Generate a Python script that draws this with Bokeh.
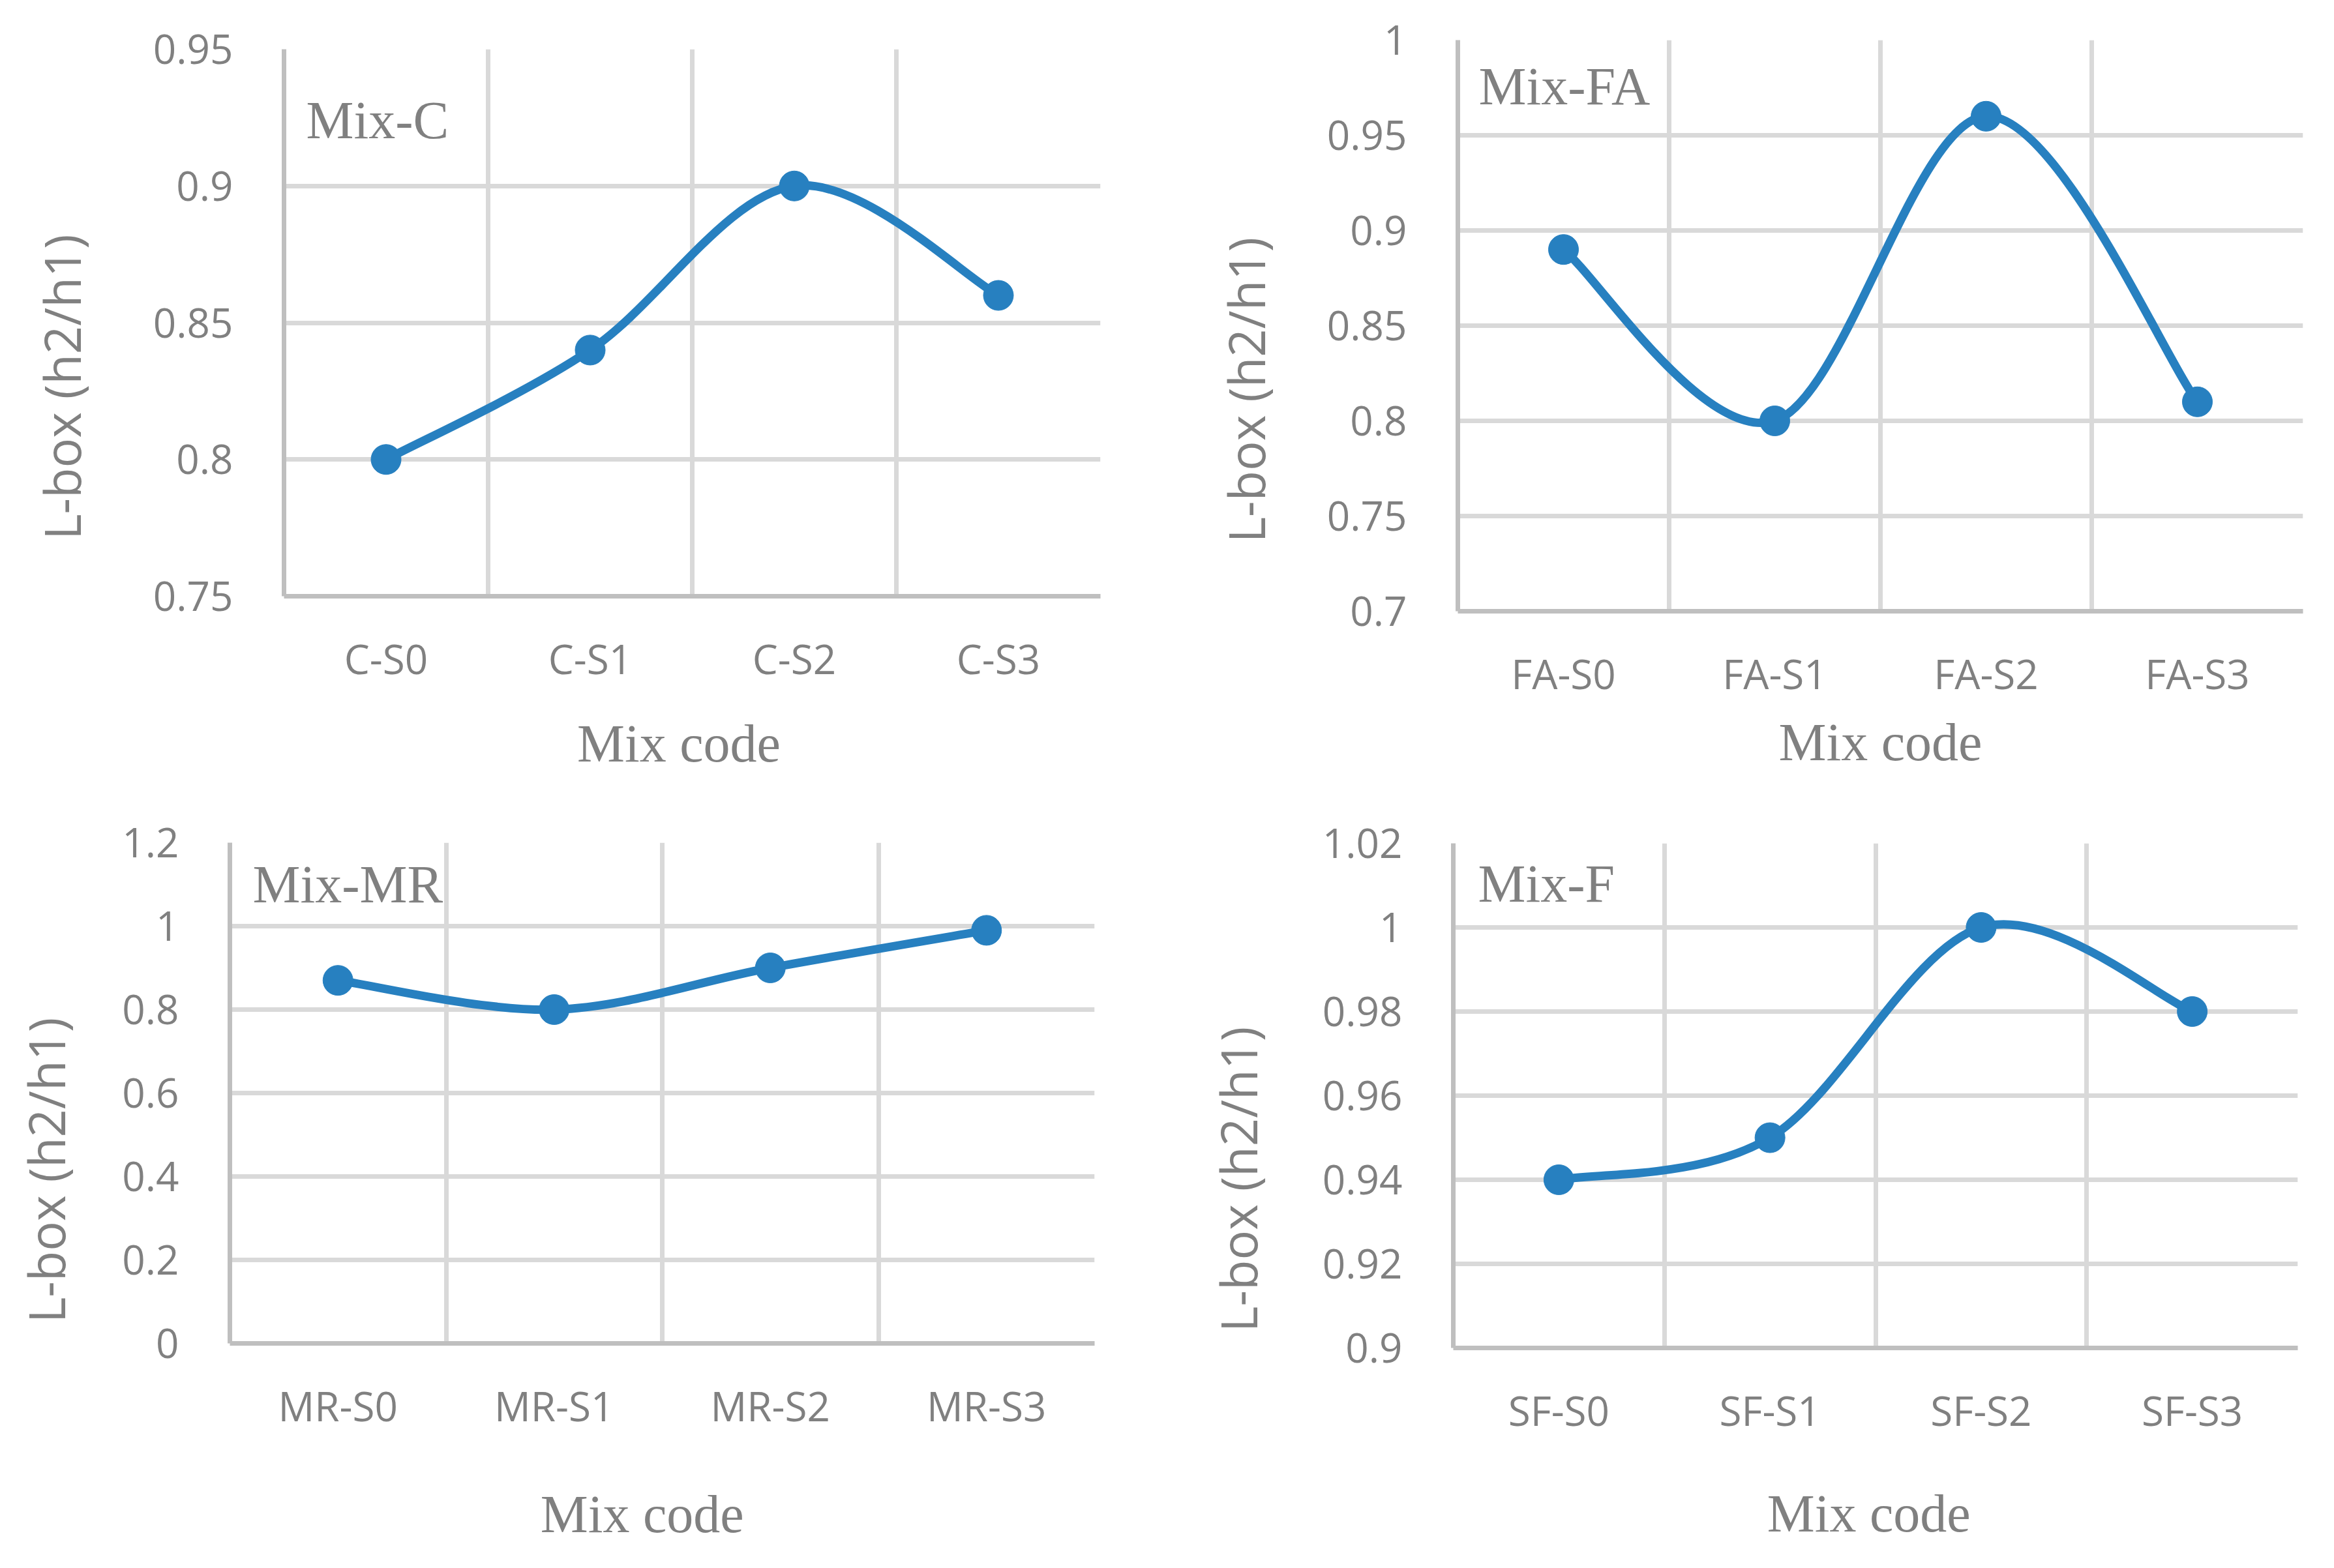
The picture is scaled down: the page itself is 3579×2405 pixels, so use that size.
import numpy as np
from bokeh.plotting import figure
from bokeh.models import Range1d, FixedTicker, NumeralTickFormatter, Label, ColumnDataSource
from bokeh.layouts import column, row
from bokeh.embed import file_html
from bokeh.resources import INLINE

# ---------------- data ----------------
c_codes = ["C-S0", "C-S1", "C-S2", "C-S3"]
c_vals = [0.80, 0.84, 0.90, 0.86]
c_yticks = [0.75, 0.80, 0.85, 0.90, 0.95]

fa_codes = ["FA-S0", "FA-S1", "FA-S2", "FA-S3"]
fa_vals = [0.89, 0.80, 0.96, 0.81]
fa_yticks = [0.70, 0.75, 0.80, 0.85, 0.90, 0.95, 1.00]

mr_codes = ["MR-S0", "MR-S1", "MR-S2", "MR-S3"]
mr_vals = [0.87, 0.80, 0.90, 0.99]
mr_yticks = [0.0, 0.2, 0.4, 0.6, 0.8, 1.0, 1.2]

sf_codes = ["SF-S0", "SF-S1", "SF-S2", "SF-S3"]
sf_vals = [0.94, 0.95, 1.00, 0.98]
sf_yticks = [0.90, 0.92, 0.94, 0.96, 0.98, 1.00, 1.02]

panel_titles = ["Mix-C", "Mix-FA", "Mix-MR", "Mix-F"]
x_title = "Mix code"
y_title = "L-box (h2/h1)"

# ---------------- styling / layout ----------------
BLUE = "#2780C0"
TXT = "#808080"
GRID = "#D9D9D9"
AXIS = "#BFBFBF"
SANS = "Open Sans"
SERIF = "Liberation Serif"
NBSP = "\u00a0"

# page-pixel geometry of each panel (figure origin, frame box, figure size);
# xpad / ypad: non-breaking spaces that move an axis title off-centre
GEO = [
    dict(ox=0, oy=0, fl=435, ft=75, fw=1252, fh=839, W=1790, H=1200,
         tx=469, ty=184, xstand=40, ystand=86, xpad=2, ypad=10),
    dict(ox=1790, oy=0, fl=2235, ft=61, fw=1296, fh=876, W=1787, H=1200,
         tx=2267, ty=132, xstand=15, ystand=70, xpad=0, ypad=10),
    dict(ox=0, oy=1200, fl=352, ft=1292, fw=1326, fh=768, W=1790, H=1200,
         tx=387, ty=1356, xstand=76, ystand=62, xpad=3, ypad=12),
    dict(ox=1790, oy=1200, fl=2228, ft=1293, fw=1295, fh=774, W=1787, H=1200,
         tx=2266, ty=1355, xstand=68, ystand=75, xpad=1, ypad=13),
]


def make_panel(codes, vals, yticks, title, g):
    n = len(codes)
    xs = np.arange(n) + 0.5
    ys = np.array(vals, dtype=float)
    y0, y1 = yticks[0], yticks[-1]

    ml = g["fl"] - g["ox"]
    mt = g["ft"] - g["oy"]
    mr = g["W"] - ml - g["fw"]
    mb = g["H"] - mt - g["fh"]

    p = figure(x_range=Range1d(0, n), y_range=Range1d(y0, y1),
               width=g["W"], height=g["H"],
               min_border_left=ml, min_border_top=mt,
               min_border_right=mr, min_border_bottom=mb,
               output_backend="svg", toolbar_location=None, tools="")
    p.frame_align = False
    p.outline_line_color = None
    p.background_fill_color = "white"
    p.border_fill_color = "white"

    # x axis
    xa = p.xaxis[0]
    xa.ticker = FixedTicker(ticks=[float(v) for v in xs])
    xa.major_label_overrides = {float(v): c for v, c in zip(xs, codes)}
    xa.major_tick_line_color = None
    xa.minor_tick_line_color = None
    xa.major_label_standoff = 47
    xa.major_label_text_font = SANS
    xa.major_label_text_font_size = "62px"
    xa.major_label_text_color = TXT
    xa.axis_line_color = AXIS
    xa.axis_line_width = 7
    xa.axis_label = x_title + NBSP * g["xpad"]
    xa.axis_label_text_font = SERIF
    xa.axis_label_text_font_size = "82px"
    xa.axis_label_text_font_style = "normal"
    xa.axis_label_text_color = TXT
    xa.axis_label_standoff = g["xstand"]

    # y axis
    ya = p.yaxis[0]
    ya.ticker = FixedTicker(ticks=list(yticks))
    ya.formatter = NumeralTickFormatter(format="0.[00]")
    ya.major_tick_line_color = None
    ya.minor_tick_line_color = None
    ya.major_label_standoff = 72
    ya.major_label_text_font = SANS
    ya.major_label_text_font_size = "62px"
    ya.major_label_text_color = TXT
    ya.axis_line_color = AXIS
    ya.axis_line_width = 7
    ya.axis_label = y_title + NBSP * g["ypad"]
    ya.axis_label_text_font = SANS
    ya.axis_label_text_font_size = "76px"
    ya.axis_label_text_font_style = "normal"
    ya.axis_label_text_color = TXT
    ya.axis_label_standoff = g["ystand"]

    # grids
    p.xgrid.ticker = FixedTicker(ticks=list(range(1, n + 1)))
    p.ygrid.ticker = FixedTicker(ticks=list(yticks))
    for gr in (p.xgrid[0], p.ygrid[0]):
        gr.grid_line_color = GRID
        gr.grid_line_width = 7

    # smoothed line (cubic Bezier segments through the points)
    P = np.column_stack([xs, ys])
    segs = dict(x0=[], y0=[], x1=[], y1=[], cx0=[], cy0=[], cx1=[], cy1=[])
    for i in range(n - 1):
        pm = P[i - 1] if i > 0 else P[i]
        pa = P[i]
        pb = P[i + 1]
        pp = P[i + 2] if i + 2 < n else P[i + 1]
        c0 = pa + (pb - pm) / 6.0
        c1 = pb - (pp - pa) / 6.0
        segs["x0"].append(pa[0]); segs["y0"].append(pa[1])
        segs["x1"].append(pb[0]); segs["y1"].append(pb[1])
        segs["cx0"].append(c0[0]); segs["cy0"].append(c0[1])
        segs["cx1"].append(c1[0]); segs["cy1"].append(c1[1])
    p.bezier(x0="x0", y0="y0", x1="x1", y1="y1", cx0="cx0", cy0="cy0",
             cx1="cx1", cy1="cy1", source=ColumnDataSource(segs),
             line_color=BLUE, line_width=13, line_cap="round")
    p.scatter(xs, ys, size=46, marker="circle", fill_color=BLUE, line_color=BLUE)

    # inset title, positioned from page pixels via the panel's data scale
    lx = (g["tx"] - g["fl"]) / g["fw"] * n
    ly = y1 - (g["ty"] - g["ft"]) / g["fh"] * (y1 - y0)
    p.add_layout(Label(x=lx, y=ly, text=title,
                       text_font=SERIF, text_font_size="82px", text_color=TXT,
                       text_align="left", text_baseline="alphabetic"))
    return p


p1 = make_panel(c_codes, c_vals, c_yticks, panel_titles[0], GEO[0])
p2 = make_panel(fa_codes, fa_vals, fa_yticks, panel_titles[1], GEO[1])
p3 = make_panel(mr_codes, mr_vals, mr_yticks, panel_titles[2], GEO[2])
p4 = make_panel(sf_codes, sf_vals, sf_yticks, panel_titles[3], GEO[3])

layout = column(row(p1, p2, spacing=0), row(p3, p4, spacing=0), spacing=0)

open("out.html", "w").write(file_html(layout, INLINE))
